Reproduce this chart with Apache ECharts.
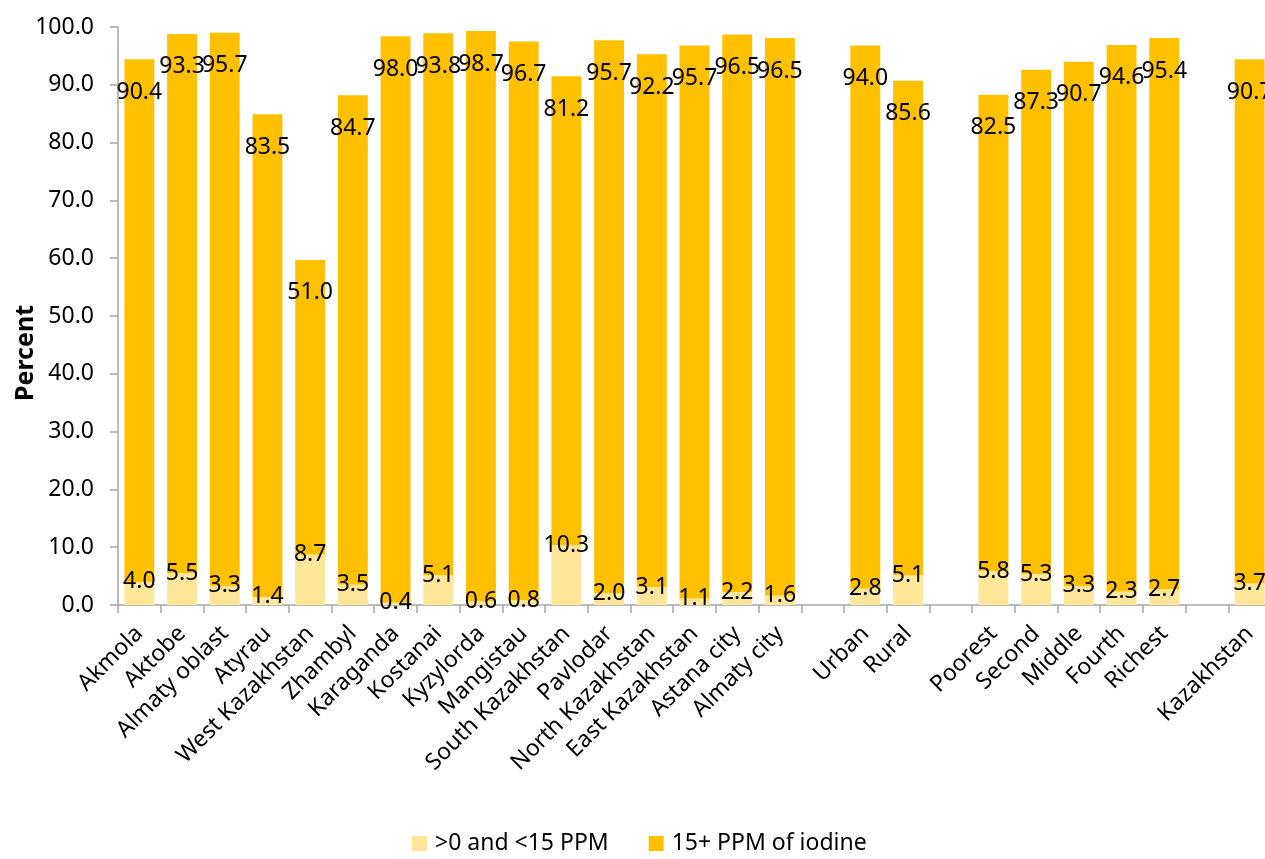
<!DOCTYPE html>
<html>
<head>
<meta charset="utf-8">
<title>Iodized salt by region</title>
<script src="https://cdn.jsdelivr.net/npm/echarts@6/dist/echarts.min.js"></script>
<style>
  html, body { margin: 0; padding: 0; background: #fff; }
  #chart { width: 1265px; height: 859px; }
</style>
</head>
<body>
<div id="chart"></div>
<script>
// Categories; blank entries leave a gap between the groups
const categories = [
  'Akmola', 'Aktobe', 'Almaty oblast', 'Atyrau', 'West Kazakhstan', 'Zhambyl',
  'Karaganda', 'Kostanai', 'Kyzylorda', 'Mangistau', 'South Kazakhstan', 'Pavlodar',
  'North Kazakhstan', 'East Kazakhstan', 'Astana city', 'Almaty city',
  ' ',
  'Urban', 'Rural',
  '  ',
  'Poorest', 'Second', 'Middle', 'Fourth', 'Richest',
  '   ',
  'Kazakhstan'
];

// Share of households with salt >0 and <15 PPM
const lowIodine = [
  4.0, 5.5, 3.3, 1.4, 8.7, 3.5, 0.4, 5.1, 0.6, 0.8, 10.3, 2.0, 3.1, 1.1, 2.2, 1.6,
  null,
  2.8, 5.1,
  null,
  5.8, 5.3, 3.3, 2.3, 2.7,
  null,
  3.7
];

// Share of households with salt 15+ PPM of iodine
const adequateIodine = [
  90.4, 93.3, 95.7, 83.5, 51.0, 84.7, 98.0, 93.8, 98.7, 96.7, 81.2, 95.7, 92.2, 95.7, 96.5, 96.5,
  null,
  94.0, 85.6,
  null,
  82.5, 87.3, 90.7, 94.6, 95.4,
  null,
  90.7
];

const seriesNames = ['>0 and <15 PPM', '15+ PPM of iodine'];
const yTicks = { min: 0, max: 100, interval: 10 };

const FONT = 'Noto Sans';
const AXIS_GRAY = '#A6A6A6';

const chart = echarts.init(document.getElementById('chart'), null, { renderer: 'canvas' });

const valueLabel = (pos) => ({
  show: true,
  position: pos,
  align: 'center',
  verticalAlign: 'middle',
  color: '#000',
  fontFamily: FONT,
  fontSize: 23,
  formatter: (p) => (p.value == null ? '' : Number(p.value).toFixed(1))
});

chart.setOption({
  animation: false,
  backgroundColor: '#fff',
  textStyle: { fontFamily: FONT },
  grid: {
    left: 118, right: -6, top: 27, bottom: 254,
    containLabel: false,
    outerBoundsMode: 'none'
  },
  legend: {
    data: seriesNames,
    top: 827,
    left: 407,
    icon: 'rect',
    itemWidth: 15,
    itemHeight: 15,
    itemGap: 40,
    textStyle: { fontFamily: FONT, fontSize: 23, color: '#000', padding: [0, 0, 0, 3] }
  },
  xAxis: {
    type: 'category',
    data: categories,
    axisLine: { show: true, lineStyle: { color: AXIS_GRAY, width: 1.5 } },
    axisTick: { show: true, interval: 0, length: 8, lineStyle: { color: AXIS_GRAY, width: 1.5 } },
    axisLabel: {
      interval: 0,
      rotate: 45,
      margin: 25,
      color: '#000',
      fontFamily: FONT,
      fontSize: 23
    }
  },
  yAxis: {
    type: 'value',
    min: yTicks.min,
    max: yTicks.max,
    interval: yTicks.interval,
    name: 'Percent',
    nameLocation: 'middle',
    nameGap: 80,
    nameRotate: 90,
    nameMoveOverlap: false,
    nameTextStyle: {
      fontFamily: FONT,
      fontSize: 25,
      fontWeight: 'bold',
      color: '#000',
      padding: [0, 74, 0, 0]
    },
    axisLine: { show: true, lineStyle: { color: AXIS_GRAY, width: 1.5 } },
    axisTick: { show: true, length: 8, lineStyle: { color: AXIS_GRAY, width: 1.5 } },
    splitLine: { show: false },
    axisLabel: {
      margin: 24,
      color: '#000',
      fontFamily: FONT,
      fontSize: 23,
      formatter: (v) => v.toFixed(1)
    }
  },
  series: [
    {
      name: seriesNames[0],
      type: 'bar',
      stack: 'iodine',
      data: lowIodine,
      barCategoryGap: '30%',
      itemStyle: { color: '#FFE699' },
      label: valueLabel(['50%', 0]),
      z: 3
    },
    {
      name: seriesNames[1],
      type: 'bar',
      stack: 'iodine',
      data: adequateIodine,
      barCategoryGap: '30%',
      itemStyle: { color: '#FFC000' },
      label: valueLabel(['50%', 33]),
      z: 2
    }
  ]
});
</script>
</body>
</html>
